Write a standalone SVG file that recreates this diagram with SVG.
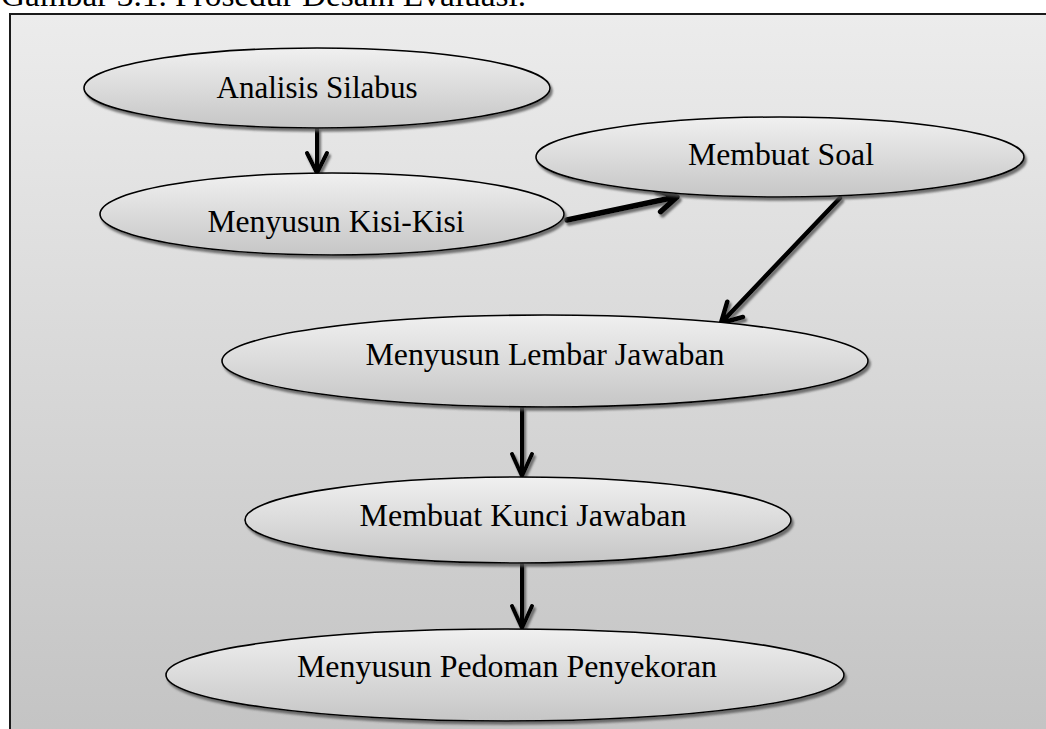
<svg xmlns="http://www.w3.org/2000/svg" width="1046" height="729" viewBox="0 0 1046 729">
<defs>
<linearGradient id="bg" x1="0" y1="0" x2="0" y2="1">
<stop offset="0" stop-color="#ececec"/>
<stop offset="1" stop-color="#c3c3c3"/>
</linearGradient>
<linearGradient id="nodeFill" x1="0" y1="0" x2="0" y2="1">
<stop offset="0" stop-color="#f0f0f0"/>
<stop offset="1" stop-color="#c6c6c6"/>
</linearGradient>
<filter id="shadow" x="-10%" y="-20%" width="120%" height="150%">
<feDropShadow dx="2" dy="3" stdDeviation="1.2" flood-color="#555" flood-opacity="0.8"/>
</filter>
</defs>
<style>
.node ellipse{fill:url(#nodeFill);stroke:#000;stroke-width:1.6;filter:url(#shadow)}
.node text{font-family:"Liberation Serif","Times New Roman",serif;font-size:31px;fill:#000;text-anchor:middle}
.conn path{fill:none;stroke:#000;stroke-linecap:round;stroke-linejoin:round}
.caption{font-family:"Liberation Serif","Times New Roman",serif;font-size:32px;fill:#000}
</style>
<rect width="1046" height="729" fill="#ffffff"/>
<text class="caption" x="1" y="6" textLength="525" lengthAdjust="spacingAndGlyphs">Gambar 3.1. Prosedur Desain Evaluasi.</text>
<rect x="10" y="14" width="1050" height="730" fill="url(#bg)" stroke="#1a1a1a" stroke-width="2"/>

<g id="connectors" class="conn" filter="url(#shadow)">
<path d="M317,129 L317,172 M307,153 L317,173 L327,153" stroke-width="4"/>
<path d="M567,220 L676,197 M656,190 L677,197 L660.6,211.7" stroke-width="5.5"/>
<path d="M840,198 L722,322 M743,317 L721,323 L727.3,301.7" stroke-width="4.5"/>
<path d="M522,408 L522,475 M512,454 L522,476 L532,454" stroke-width="4"/>
<path d="M522,564 L522,627 M512,606 L522,628 L532,606" stroke-width="4"/>
</g>

<g id="node-analisis" class="node">
<ellipse cx="317" cy="88" rx="233" ry="40"/>
<text x="317" y="98" textLength="201" lengthAdjust="spacingAndGlyphs">Analisis Silabus</text>
</g>
<g id="node-kisi" class="node">
<ellipse cx="332" cy="214" rx="232" ry="41"/>
<text x="336" y="232" textLength="257" lengthAdjust="spacingAndGlyphs">Menyusun Kisi-Kisi</text>
</g>
<g id="node-soal" class="node">
<ellipse cx="780" cy="157" rx="244" ry="40"/>
<text x="781" y="165" textLength="186" lengthAdjust="spacingAndGlyphs">Membuat Soal</text>
</g>
<g id="node-lembar" class="node">
<ellipse cx="545" cy="361" rx="323" ry="46"/>
<text x="545" y="365" textLength="359" lengthAdjust="spacingAndGlyphs">Menyusun Lembar Jawaban</text>
</g>
<g id="node-kunci" class="node">
<ellipse cx="518" cy="520" rx="273" ry="43"/>
<text x="523" y="526" textLength="327" lengthAdjust="spacingAndGlyphs">Membuat Kunci Jawaban</text>
</g>
<g id="node-pedoman" class="node">
<ellipse cx="505" cy="675" rx="339" ry="46"/>
<text x="507" y="677" textLength="420" lengthAdjust="spacingAndGlyphs">Menyusun Pedoman Penyekoran</text>
</g>
</svg>
